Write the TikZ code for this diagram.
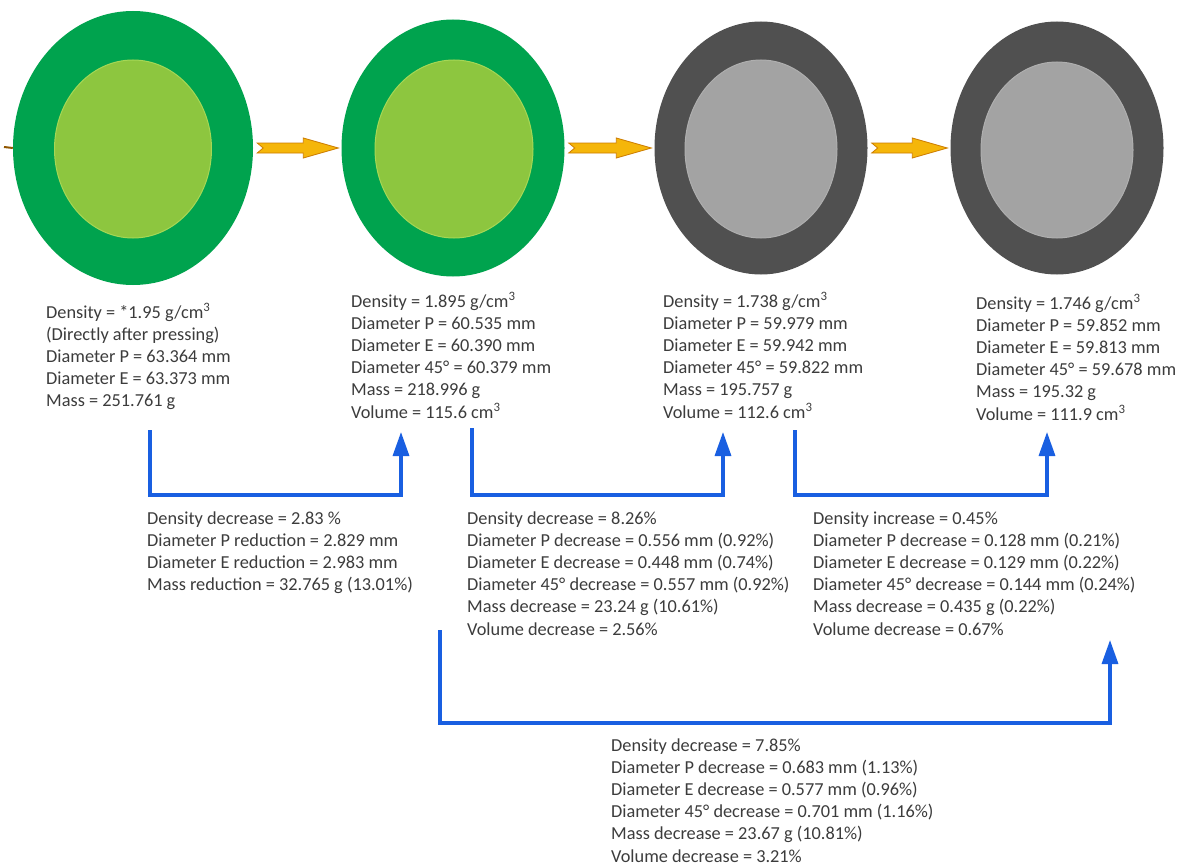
\documentclass[tikz,border=0pt]{standalone}
\usepackage{fontspec}
\setmainfont{Carlito}
\usetikzlibrary{shapes.geometric,arrows.meta,calc}
\definecolor{outg}{RGB}{0,163,78}
\definecolor{ing}{RGB}{141,198,63}
\definecolor{ingl}{RGB}{165,215,85}
\definecolor{outd}{RGB}{80,80,80}
\definecolor{ind}{RGB}{163,163,163}
\definecolor{indl}{RGB}{175,175,175}
\definecolor{yel}{RGB}{245,182,10}
\definecolor{yeld}{RGB}{205,125,0}
\definecolor{blu}{RGB}{25,95,225}
\definecolor{tgray}{RGB}{60,60,60}
\newcommand\blk[1]{\parbox[t]{12cm}{\raggedright #1}}
\newcommand\yarrowx[2]{%
  \path[yarr] let \p1=(#1.east), \p2=(#2.west) in
   (\x1+4,\y1+5) -- (\x2-38,\y1+5) -- (\x2-38,\y1+10) -- (\x2-3,\y1) --
   (\x2-38,\y1-10) -- (\x2-38,\y1-5) -- (\x1+4,\y1-5) -- (\x1+10,\y1) -- cycle;}
\begin{document}
\begin{tikzpicture}[x=1pt,y=-1pt,
  disc/.style={ellipse, inner sep=0pt},
  txt/.style={anchor=base west, inner sep=0pt, text=tgray, font=\fontsize{18.3}{22.2}\selectfont},
  bconn/.style={draw=blu, line width=3.3pt, -{Triangle[length=24pt 0 0, width=16pt 0 0]}},
  yarr/.style={fill=yel, draw=yeld, line width=0.8pt, line join=miter}
]
\useasboundingbox (0,0) rectangle (1189,867);
\fill[white] (0,0) rectangle (1189,867);

% discs
\node[disc, fill=outg, minimum width=240pt, minimum height=274pt] (c1) at (133,148) {};
\node[disc, fill=ing, draw=ingl, line width=1pt, minimum width=157pt, minimum height=178pt] (i1) at (133,149) {};
\node[disc, fill=outg, minimum width=223pt, minimum height=257pt] (c2) at (453,148) {};
\node[disc, fill=ing, draw=ingl, line width=1pt, minimum width=158pt, minimum height=178pt] (i2) at (454,149) {};
\node[disc, fill=outd, minimum width=213pt, minimum height=253pt] (c3) at (761,148) {};
\node[disc, fill=ind, draw=indl, line width=1pt, minimum width=152pt, minimum height=178pt] (i3) at (761,149) {};
\node[disc, fill=outd, minimum width=213pt, minimum height=253pt] (c4) at (1057,148) {};
\node[disc, fill=ind, draw=indl, line width=1pt, minimum width=152pt, minimum height=176pt] (i4) at (1057,150) {};

% yellow arrows
\coordinate (in0) at (4,147);
\draw[yeld!70!black, line width=2pt] (in0) -- (c1.west);
\yarrowx{c1}{c2}
\yarrowx{c2}{c3}
\yarrowx{c3}{c4}

% texts
\node[txt] (t1) at (46,318) {\blk{Density = *1.95 g/cm\textsuperscript{3}\\(Directly after pressing)\\Diameter P = 63.364 mm\\Diameter E = 63.373 mm\\Mass = 251.761 g}};
\node[txt] (t2) at (351,307) {\blk{Density = 1.895 g/cm\textsuperscript{3}\\Diameter P = 60.535 mm\\Diameter E = 60.390 mm\\Diameter 45° = 60.379 mm\\Mass = 218.996 g\\Volume = 115.6 cm\textsuperscript{3}}};
\node[txt] (t3) at (663,307) {\blk{Density = 1.738 g/cm\textsuperscript{3}\\Diameter P = 59.979 mm\\Diameter E = 59.942 mm\\Diameter 45° = 59.822 mm\\Mass = 195.757 g\\Volume = 112.6 cm\textsuperscript{3}}};
\node[txt] (t4) at (976,309) {\blk{Density = 1.746 g/cm\textsuperscript{3}\\Diameter P = 59.852 mm\\Diameter E = 59.813 mm\\Diameter 45° = 59.678 mm\\Mass = 195.32 g\\Volume = 111.9 cm\textsuperscript{3}}};
\node[txt] (t5) at (147,524) {\blk{Density decrease = 2.83 \%\\Diameter P reduction = 2.829 mm\\Diameter E reduction = 2.983 mm\\Mass reduction = 32.765 g (13.01\%)}};
\node[txt] (t6) at (467,524) {\blk{Density decrease = 8.26\%\\Diameter P decrease = 0.556 mm (0.92\%)\\Diameter E decrease = 0.448 mm (0.74\%)\\Diameter 45° decrease = 0.557 mm (0.92\%)\\Mass decrease = 23.24 g (10.61\%)\\Volume decrease = 2.56\%}};
\node[txt] (t7) at (813,524) {\blk{Density increase = 0.45\%\\Diameter P decrease = 0.128 mm (0.21\%)\\Diameter E decrease = 0.129 mm (0.22\%)\\Diameter 45° decrease = 0.144 mm (0.24\%)\\Mass decrease = 0.435 g (0.22\%)\\Volume decrease = 0.67\%}};
\node[txt] (t8) at (611,751) {\blk{Density decrease = 7.85\%\\Diameter P decrease = 0.683 mm (1.13\%)\\Diameter E decrease = 0.577 mm (0.96\%)\\Diameter 45° decrease = 0.701 mm (1.16\%)\\Mass decrease = 23.67 g (10.81\%)\\Volume decrease = 3.21\%}};

% blue connectors
\coordinate (s1) at (150,430); \coordinate (k1) at (150,495); \coordinate (e1) at (401,432);
\coordinate (s2) at (472,428); \coordinate (k2) at (472,495); \coordinate (e2) at (723,432);
\coordinate (s3) at (795,430); \coordinate (k3) at (795,495); \coordinate (e3) at (1047,432);
\coordinate (s4) at (440,630); \coordinate (k4) at (440,723); \coordinate (e4) at (1110,640);
\draw[bconn] (s1) -- (k1) -| (e1);
\draw[bconn] (s2) -- (k2) -| (e2);
\draw[bconn] (s3) -- (k3) -| (e3);
\draw[bconn] (s4) -- (k4) -| (e4);
\end{tikzpicture}
\end{document}
